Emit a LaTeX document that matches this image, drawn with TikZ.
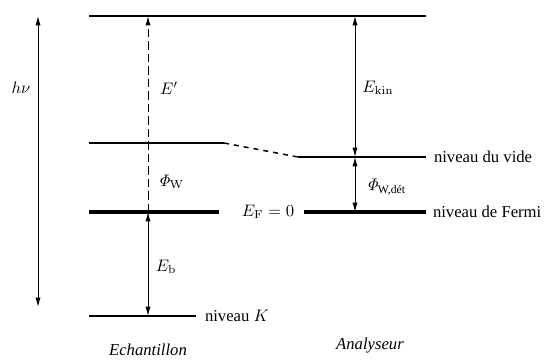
\documentclass[tikz,border=0pt]{standalone}
\usepackage{amsmath}
\usepackage[no-math]{fontspec}
\setmainfont{Liberation Serif}
\usetikzlibrary{arrows.meta}
\tikzset{
  niveau/.style={line width=1.2pt},
  fermi/.style={line width=1.9pt},
  fleche/.style={line width=0.6pt,{Latex[length=2mm,width=1.1mm]}-{Latex[length=2mm,width=1.1mm]}},
  lab/.style={inner sep=1pt,font=\normalsize},
}

\begin{document}
\begin{tikzpicture}[x=0.6pt,y=-0.6pt]
\useasboundingbox (0,0) rectangle (554,360);
% niveaux
\coordinate (hautG) at (89,16);  \coordinate (hautD) at (426,16);
\coordinate (videG1) at (89,143); \coordinate (videG2) at (224,143);
\coordinate (videD1) at (298,157); \coordinate (videD2) at (426,157);
\coordinate (fermiG1) at (89,212); \coordinate (fermiG2) at (219,212);
\coordinate (fermiD1) at (304,212); \coordinate (fermiD2) at (426,212);
\coordinate (kG) at (89,316); \coordinate (kD) at (196,316);
\draw[niveau] (hautG) -- (hautD);
\draw[niveau] (videG1) -- (videG2);
\draw[niveau] (videD1) -- (videD2);
\draw[niveau, dashed, line width=0.9pt] (videG2) -- (videD1);
\draw[fermi] (fermiG1) -- (fermiG2);
\draw[fermi] (fermiD1) -- (fermiD2);
\draw[niveau] (kG) -- (kD);
% fleches
\coordinate (hvH) at (38,16); \coordinate (hvB) at (38,307);
\coordinate (ePH) at (148,16); \coordinate (ePB) at (148,212);
\coordinate (ebH) at (148,212); \coordinate (ebB) at (148,316);
\coordinate (ekH) at (355,16); \coordinate (ekB) at (355,157);
\coordinate (phH) at (355,157); \coordinate (phB) at (355,212);
\draw[fleche] (hvH) -- (hvB);
\draw[line width=0.6pt, dash pattern=on 5pt off 2.5pt, -{Latex[length=2mm,width=1.1mm]}] (ePB) -- (ePH);
\draw[fleche] (ebH) -- (ebB);
\draw[fleche] (ekH) -- (ekB);
\draw[fleche] (phH) -- (phB);
% textes
\node[lab] (hv) at (21,88) {$h\nu$};
\node[lab] (ep) at (169,88) {$E'$};
\node[lab] (ekin) at (378,88) {$E_{\mathrm{kin}}$};
\node[lab] (phiw) at (171,182) {$\mathit{\Phi}_{\mathrm{W}}$};
\node[lab] (phid) at (386,187) {$\mathit{\Phi}_{\text{W,dét}}$};
\node[lab] (ef) at (268,212) {$E_{\mathrm{F}}=0$};
\node[lab] (eb) at (166,267) {$E_{\mathrm{b}}$};
\node[lab, anchor=west] (vide) at (432,157) {niveau du vide};
\node[lab, anchor=west] (fermi) at (431,212) {niveau de Fermi};
\node[lab, anchor=west] (nivK) at (203,316) {niveau $K$};
\node[lab] (ech) at (148,350) {\textit{Echantillon}};
\node[lab] (ana) at (370,346) {\textit{Analyseur}};
\end{tikzpicture}
\end{document}
